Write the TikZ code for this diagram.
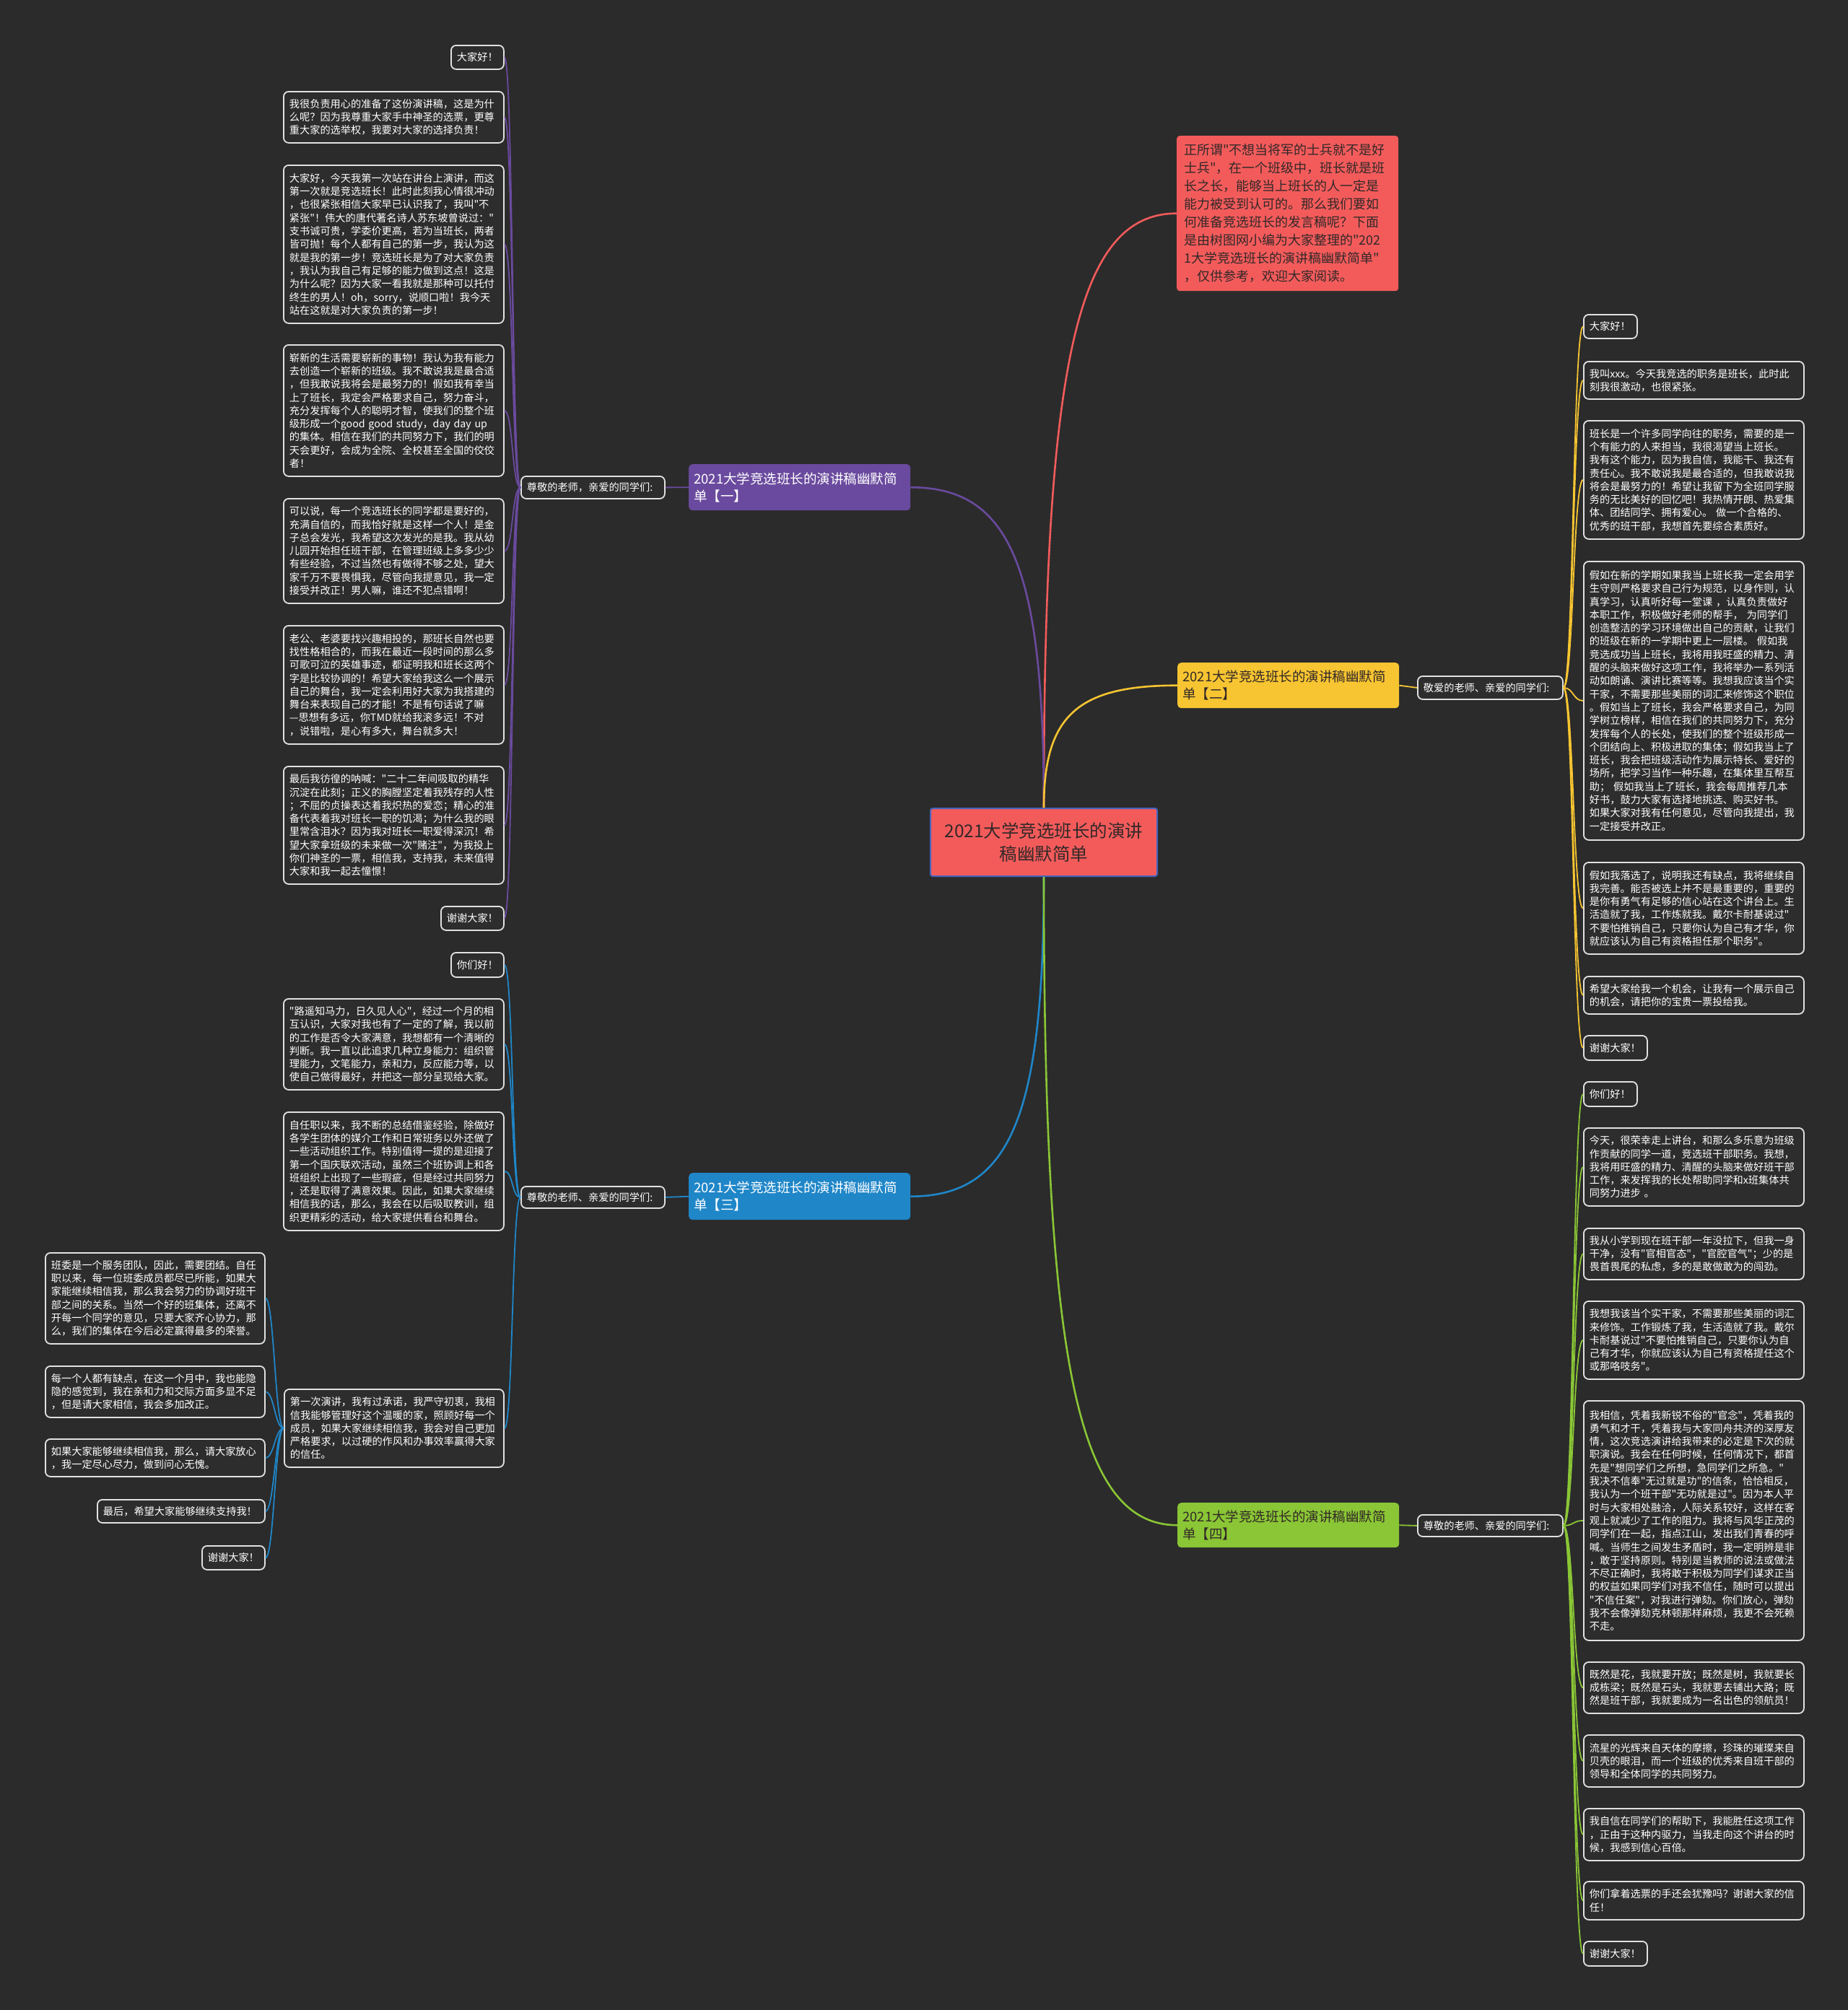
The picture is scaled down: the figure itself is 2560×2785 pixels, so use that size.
\documentclass[tikz,border=0pt]{standalone}
\usepackage{fontspec}
\setmainfont{Noto Sans CJK SC}[Ligatures=TeXOff]
\usetikzlibrary{calc}
\definecolor{bgc}{RGB}{43,43,43}
\definecolor{leaffill}{RGB}{45,45,45}
\definecolor{leafborder}{RGB}{225,225,225}
\definecolor{cpurple}{RGB}{106,74,158}
\definecolor{cyellow}{RGB}{247,197,49}
\definecolor{cblue}{RGB}{31,134,200}
\definecolor{cgreen}{RGB}{138,198,53}
\definecolor{cred}{RGB}{243,91,91}
\definecolor{cdark}{RGB}{50,40,40}
\definecolor{cborder}{RGB}{70,100,190}
\newcommand\leaffont{\fontsize{14.2}{18.3}\selectfont}
\newcommand\lf[6]{\pgfmathsetmacro\mytw{#4-16}\node[leaf,text width=\mytw pt,minimum width=#4pt,minimum height=#5pt] (#1) at (#2,#3) {#6};}
\newcommand\conL[3]{\draw[#1] (#2) .. controls ($(#2)+(-12,0)$) and ($(#3)+(12,0)$) .. (#3);}
\newcommand\conR[3]{\draw[#1] (#2) .. controls ($(#2)+(14,0)$) and ($(#3)+(-14,0)$) .. (#3);}
\newcommand\mainc[4]{\coordinate (#4) at (#2 |- #3); \draw[#1] (#2) .. controls ($(#2)!0.75!(#4)$) and ($(#3)!0.75!(#4)$) .. (#3);}
\begin{document}
\begin{tikzpicture}[x=1pt,y=-1pt,
  leaf/.style={draw=leafborder, fill=leaffill, rounded corners=7pt, line width=1.8pt, text=white, font=\leaffont, align=left, anchor=north west, inner xsep=8pt, inner ysep=0pt},
  branch/.style={rounded corners=5pt, align=left, anchor=north west, inner xsep=7pt, inner ysep=0pt, text width=293pt, font=\fontsize{18.5}{24}\selectfont},
  mainline/.style={line width=2.6pt},
  subline/.style={line width=1.8pt}]
\useasboundingbox (0,0) rectangle (2560,2785);
\fill[bgc] (0,0) rectangle (2560,2785);

% central
\node[fill=cred, draw=cborder, line width=2pt, rounded corners=3pt, anchor=north west, minimum width=314pt, minimum height=94pt, align=center, text=cdark, font=\fontsize{24.5}{32}\selectfont] (c) at (1288,1119) {2021大学竞选班长的演讲\\稿幽默简单};

% intro
\node[fill=cred, rounded corners=4pt, anchor=north west, text width=287pt, minimum height=215pt, align=left, text=cdark, inner xsep=10pt, font=\fontsize{18}{25}\selectfont] (intro) at (1630,188) {正所谓"不想当将军的士兵就不是好\\士兵"，在一个班级中，班长就是班\\长之长，能够当上班长的人一定是\\能力被受到认可的。那么我们要如\\何准备竞选班长的发言稿呢？下面\\是由树图网小编为大家整理的"202\\1大学竞选班长的演讲稿幽默简单"\\，仅供参考，欢迎大家阅读。};

% branch labels
\node[branch, fill=cpurple, text=white, minimum height=64pt] (b1) at (954,643) {2021大学竞选班长的演讲稿幽默简\\单【一】};
\node[branch, fill=cyellow, text=cdark, minimum height=63pt] (b2) at (1631,918) {2021大学竞选班长的演讲稿幽默简\\单【二】};
\node[branch, fill=cblue, text=white, minimum height=65pt] (b3) at (954,1625) {2021大学竞选班长的演讲稿幽默简\\单【三】};
\node[branch, fill=cgreen, text=cdark, minimum height=62pt] (b4) at (1631,2082) {2021大学竞选班长的演讲稿幽默简\\单【四】};

% subtopics
\lf{s1}{721}{659}{199}{31}{尊敬的老师，亲爱的同学们:}
\lf{s2}{1963}{936}{201}{32}{敬爱的老师、亲爱的同学们:}
\lf{s3}{721}{1643}{199}{30}{尊敬的老师、亲爱的同学们:}
\lf{s4}{1963}{2098}{201}{30}{尊敬的老师、亲爱的同学们:}

% branch 1 leaves
\lf{l1a}{624}{62}{73}{33}{大家好！}
\lf{l1b}{392}{126}{305}{71}{我很负责用心的准备了这份演讲稿，这是为什\\么呢？因为我尊重大家手中神圣的选票，更尊\\重大家的选举权，我要对大家的选择负责！}
\lf{l1c}{392}{228}{305}{219}{大家好，今天我第一次站在讲台上演讲，而这\\第一次就是竞选班长！此时此刻我心情很冲动\\，也很紧张相信大家早已认识我了，我叫"不\\紧张"！伟大的唐代著名诗人苏东坡曾说过："\\支书诚可贵，学委价更高，若为当班长，两者\\皆可抛！每个人都有自己的第一步，我认为这\\就是我的第一步！竞选班长是为了对大家负责\\，我认为我自己有足够的能力做到这点！这是\\为什么呢？因为大家一看我就是那种可以托付\\终生的男人！oh，sorry，说顺口啦！我今天\\站在这就是对大家负责的第一步！}
\lf{l1d}{392}{477}{305}{182}{崭新的生活需要崭新的事物！我认为我有能力\\去创造一个崭新的班级。我不敢说我是最合适\\，但我敢说我将会是最努力的！假如我有幸当\\上了班长，我定会严格要求自己，努力奋斗，\\充分发挥每个人的聪明才智，使我们的整个班\\级形成一个good good study，day day up\\的集体。相信在我们的共同努力下，我们的明\\天会更好，会成为全院、全校甚至全国的佼佼\\者！}
\lf{l1e}{392}{690}{305}{145}{可以说，每一个竞选班长的同学都是要好的，\\充满自信的，而我恰好就是这样一个人！是金\\子总会发光，我希望这次发光的是我。我从幼\\儿园开始担任班干部，在管理班级上多多少少\\有些经验，不过当然也有做得不够之处，望大\\家千万不要畏惧我，尽管向我提意见，我一定\\接受并改正！男人嘛，谁还不犯点错啊！}
\lf{l1f}{392}{866}{305}{164}{老公、老婆要找兴趣相投的，那班长自然也要\\找性格相合的，而我在最近一段时间的那么多\\可歌可泣的英雄事迹，都证明我和班长这两个\\字是比较协调的！希望大家给我这么一个展示\\自己的舞台，我一定会利用好大家为我搭建的\\舞台来表现自己的才能！不是有句话说了嘛\\—思想有多远，你TMD就给我滚多远！不对\\，说错啦，是心有多大，舞台就多大！}
\lf{l1g}{392}{1061}{305}{163}{最后我彷徨的呐喊："二十二年间吸取的精华\\沉淀在此刻；正义的胸膛坚定着我残存的人性\\；不屈的贞操表达着我炽热的爱恋；精心的准\\备代表着我对班长一职的饥渴；为什么我的眼\\里常含泪水？因为我对班长一职爱得深沉！希\\望大家拿班级的未来做一次"赌注"，为我投上\\你们神圣的一票，相信我，支持我，未来值得\\大家和我一起去憧憬！}
\lf{l1h}{610}{1255}{87}{33}{谢谢大家！}

% branch 2 leaves
\lf{l2a}{2193}{435}{74}{33}{大家好！}
\lf{l2b}{2193}{500}{305}{52}{我叫xxx。今天我竞选的职务是班长，此时此\\刻我很激动，也很紧张。}
\lf{l2c}{2193}{582}{305}{164}{班长是一个许多同学向往的职务，需要的是一\\个有能力的人来担当，我很渴望当上班长。\\我有这个能力，因为我自信，我能干、我还有\\责任心。我不敢说我是最合适的，但我敢说我\\将会是最努力的！希望让我留下为全班同学服\\务的无比美好的回忆吧！我热情开朗、热爱集\\体、团结同学、拥有爱心。 做一个合格的、\\优秀的班干部，我想首先要综合素质好。}
\lf{l2d}{2193}{777}{305}{386}{假如在新的学期如果我当上班长我一定会用学\\生守则严格要求自己行为规范，以身作则，认\\真学习，认真听好每一堂课 ，认真负责做好\\本职工作，积极做好老师的帮手， 为同学们\\创造整洁的学习环境做出自己的贡献，让我们\\的班级在新的一学期中更上一层楼。 假如我\\竞选成功当上班长，我将用我旺盛的精力、清\\醒的头脑来做好这项工作，我将举办一系列活\\动如朗诵、演讲比赛等等。我想我应该当个实\\干家，不需要那些美丽的词汇来修饰这个职位\\。假如当上了班长，我会严格要求自己，为同\\学树立榜样，相信在我们的共同努力下，充分\\发挥每个人的长处，使我们的整个班级形成一\\个团结向上、积极进取的集体；假如我当上了\\班长，我会把班级活动作为展示特长、爱好的\\场所，把学习当作一种乐趣，在集体里互帮互\\助； 假如我当上了班长，我会每周推荐几本\\好书，鼓力大家有选择地挑选、购买好书。\\如果大家对我有任何意见，尽管向我提出，我\\一定接受并改正。}
\lf{l2e}{2193}{1194}{305}{127}{假如我落选了，说明我还有缺点，我将继续自\\我完善。能否被选上并不是最重要的，重要的\\是你有勇气有足够的信心站在这个讲台上。生\\活造就了我，工作炼就我。戴尔卡耐基说过"\\不要怕推销自己，只要你认为自己有才华，你\\就应该认为自己有资格担任那个职务"。}
\lf{l2f}{2193}{1352}{305}{52}{希望大家给我一个机会，让我有一个展示自己\\的机会，请把你的宝贵一票投给我。}
\lf{l2g}{2193}{1434}{88}{34}{谢谢大家！}

% branch 3 leaves
\lf{l3a}{624}{1319}{73}{34}{你们好！}
\lf{l3b}{392}{1383}{305}{126}{"路遥知马力，日久见人心"，经过一个月的相\\互认识，大家对我也有了一定的了解，我以前\\的工作是否令大家满意，我想都有一个清晰的\\判断。我一直以此追求几种立身能力：组织管\\理能力，文笔能力，亲和力，反应能力等，以\\使自己做得最好，并把这一部分呈现给大家。}
\lf{l3c}{392}{1540}{305}{164}{自任职以来，我不断的总结借鉴经验，除做好\\各学生团体的媒介工作和日常班务以外还做了\\一些活动组织工作。特别值得一提的是迎接了\\第一个国庆联欢活动，虽然三个班协调上和各\\班组织上出现了一些瑕疵，但是经过共同努力\\，还是取得了满意效果。因此，如果大家继续\\相信我的话，那么，我会在以后吸取教训，组\\织更精彩的活动，给大家提供看台和舞台。}
\lf{l3d}{393}{1924}{304}{108}{第一次演讲，我有过承诺，我严守初衷，我相\\信我能够管理好这个温暖的家，照顾好每一个\\成员，如果大家继续相信我，我会对自己更加\\严格要求，以过硬的作风和办事效率赢得大家\\的信任。}
\lf{l3e}{62}{1735}{304}{126}{班委是一个服务团队，因此，需要团结。自任\\职以来，每一位班委成员都尽已所能，如果大\\家能继续相信我，那么我会努力的协调好班干\\部之间的关系。当然一个好的班集体，还离不\\开每一个同学的意见，只要大家齐心协力，那\\么，我们的集体在今后必定赢得最多的荣誉。}
\lf{l3f}{62}{1892}{304}{71}{每一个人都有缺点，在这一个月中，我也能隐\\隐的感觉到，我在亲和力和交际方面多显不足\\，但是请大家相信，我会多加改正。}
\lf{l3g}{62}{1993}{304}{52}{如果大家能够继续相信我，那么，请大家放心\\，我一定尽心尽力，做到问心无愧。}
\lf{l3h}{134}{2077}{232}{32}{最后，希望大家能够继续支持我！}
\lf{l3i}{279}{2141}{87}{33}{谢谢大家！}

% branch 4 leaves
\lf{l4a}{2193}{1498}{74}{34}{你们好！}
\lf{l4b}{2193}{1562}{305}{108}{今天，很荣幸走上讲台，和那么多乐意为班级\\作贡献的同学一道，竞选班干部职务。我想，\\我将用旺盛的精力、清醒的头脑来做好班干部\\工作，来发挥我的长处帮助同学和x班集体共\\同努力进步 。}
\lf{l4c}{2193}{1701}{305}{71}{我从小学到现在班干部一年没拉下，但我一身\\干净，没有"官相官态"，"官腔官气"；少的是\\畏首畏尾的私虑，多的是敢做敢为的闯劲。}
\lf{l4d}{2193}{1802}{305}{108}{我想我该当个实干家，不需要那些美丽的词汇\\来修饰。工作锻炼了我，生活造就了我。戴尔\\卡耐基说过"不要怕推销自己，只要你认为自\\己有才华，你就应该认为自己有资格提任这个\\或那咯吱务"。}
\lf{l4e}{2193}{1940}{305}{332}{我相信，凭着我新锐不俗的"官念"，凭着我的\\勇气和才干，凭着我与大家同舟共济的深厚友\\情，这次竞选演讲给我带来的必定是下次的就\\职演说。我会在任何时候，任何情况下，都首\\先是"想同学们之所想，急同学们之所急。"\\我决不信奉"无过就是功"的信条，恰恰相反，\\我认为一个班干部"无功就是过"。因为本人平\\时与大家相处融洽，人际关系较好，这样在客\\观上就减少了工作的阻力。我将与风华正茂的\\同学们在一起，指点江山，发出我们青春的呼\\喊。当师生之间发生矛盾时，我一定明辨是非\\，敢于坚持原则。特别是当教师的说法或做法\\不尽正确时，我将敢于积极为同学们谋求正当\\的权益如果同学们对我不信任，随时可以提出\\"不信任案"，对我进行弹劾。你们放心，弹劾\\我不会像弹劾克林顿那样麻烦，我更不会死赖\\不走。}
\lf{l4f}{2193}{2302}{305}{71}{既然是花，我就要开放；既然是树，我就要长\\成栋梁；既然是石头，我就要去铺出大路；既\\然是班干部，我就要成为一名出色的领航员！}
\lf{l4g}{2193}{2403}{305}{72}{流星的光辉来自天体的摩擦，珍珠的璀璨来自\\贝壳的眼泪，而一个班级的优秀来自班干部的\\领导和全体同学的共同努力。}
\lf{l4h}{2193}{2505}{305}{72}{我自信在同学们的帮助下，我能胜任这项工作\\，正由于这种内驱力，当我走向这个讲台的时\\候，我感到信心百倍。}
\lf{l4i}{2193}{2606}{305}{53}{你们拿着选票的手还会犹豫吗？谢谢大家的信\\任！}
\lf{l4j}{2193}{2689}{88}{34}{谢谢大家！}

% main connectors
\mainc{mainline,draw=cred}{c.north}{intro.west}{k0}
\mainc{mainline,draw=cpurple}{c.north}{b1.east}{k1}
\mainc{mainline,draw=cyellow}{c.north}{b2.west}{k2}
\mainc{mainline,draw=cblue}{c.south}{b3.east}{k3}
\mainc{mainline,draw=cgreen}{c.south}{b4.west}{k4}

% label to subtopic
\draw[subline,cpurple] (b1.west) -- (s1.east);
\draw[subline,cyellow] (b2.east) -- (s2.west);
\draw[subline,cblue] (b3.west) -- (s3.east);
\draw[subline,cgreen] (b4.east) -- (s4.west);

% branch 1
\foreach \n in {l1a,l1b,l1c,l1d,l1e,l1f,l1g,l1h}{\conL{subline,cpurple}{s1.west}{\n.east}}
% branch 2
\foreach \n in {l2a,l2b,l2c,l2d,l2e,l2f,l2g}{\conR{subline,cyellow}{s2.east}{\n.west}}
% branch 3
\foreach \n in {l3a,l3b,l3c,l3d}{\conL{subline,cblue}{s3.west}{\n.east}}
\foreach \n in {l3e,l3f,l3g,l3h,l3i}{\conL{subline,cblue}{l3d.west}{\n.east}}
% branch 4
\foreach \n in {l4a,l4b,l4c,l4d,l4e,l4f,l4g,l4h,l4i,l4j}{\conR{subline,cgreen}{s4.east}{\n.west}}
\end{tikzpicture}
\end{document}
